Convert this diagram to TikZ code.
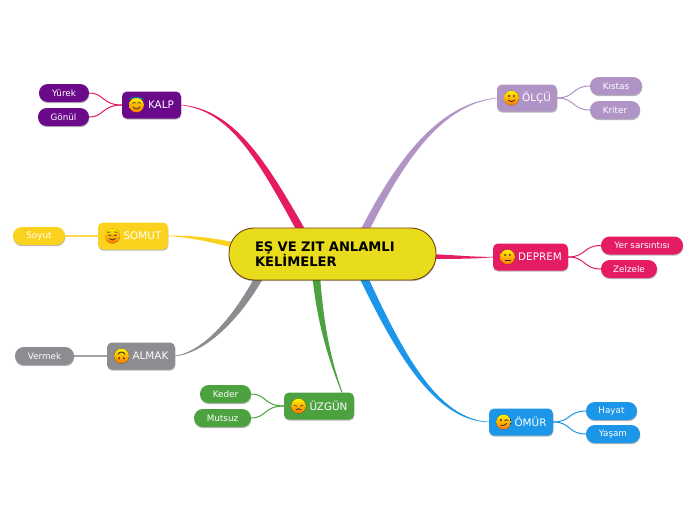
\documentclass[tikz,border=0pt]{standalone}
\usepackage{fontspec}
\setmainfont{DejaVu Sans}
\usetikzlibrary{shadows,backgrounds,calc}
\definecolor{cpurple}{HTML}{6A0A8A}
\definecolor{cpink}{HTML}{E51C63}
\definecolor{cyellow}{HTML}{FBD31F}
\definecolor{cgray}{HTML}{8C8C91}
\definecolor{cgreen}{HTML}{4BA23F}
\definecolor{clilac}{HTML}{B094C6}
\definecolor{cblue}{HTML}{1B96E8}
\definecolor{croot}{HTML}{E8DC1C}
\definecolor{cedge}{HTML}{744410}
\tikzset{
  softshadow/.style={general shadow={shadow xshift=0.3pt,shadow yshift=-1.2pt,fill=black,opacity=.28}},
  topic/.style={rectangle,rounded corners=5pt,fill=#1,text=white,softshadow,inner sep=0pt,minimum height=27pt,font=\fontsize{10.4}{12}\selectfont},
  leaf/.style={rectangle,rounded corners=8.8pt,fill=#1,text=white,softshadow,inner sep=0pt,minimum height=18pt,font=\fontsize{8.8}{11}\selectfont},
  rootbox/.style={rectangle,rounded corners=25pt,fill=croot,draw=cedge,line width=.9pt,softshadow,inner ysep=0pt,inner xsep=26pt,minimum height=52pt,text width=155pt,align=left,font=\fontsize{13.1}{15.5}\selectfont\bfseries,text=black},
  twig/.style={draw=#1,line width=1pt,line cap=round}
}
\newcommand{\taperline}[6]{% colour, thin end, c1, c2, root point, half width
  \fill[#1] ($(#2)+.12*(#6)$) .. controls ($(#3)+.3*(#6)$) and ($(#4)+.85*(#6)$) .. ($(#5)+(#6)$) -- ($(#5)-(#6)$) .. controls ($(#4)-.85*(#6)$) and ($(#3)-.3*(#6)$) .. ($(#2)-.12*(#6)$) -- cycle;
}
\newcommand{\facebase}{\fill[top color=yellow!90!orange,bottom color=orange!92!red,draw=none] (0,0) circle (7.4);}
\newcommand{\dotseyes}{\fill[black!80] (-2.4,-2) ellipse (.9 and 1.3); \fill[black!80] (2.4,-2) ellipse (.9 and 1.3);}
\newcommand{\facekalp}{\facebase
  \draw[black!75,line width=.7pt] (-4.2,-1.6) .. controls (-3.2,-3) and (-1.8,-3) .. (-1,-1.6);
  \draw[black!75,line width=.7pt] (4.2,-1.6) .. controls (3.2,-3) and (1.8,-3) .. (1,-1.6);
  \draw[black!75,line width=.8pt] (-3.6,1.6) .. controls (-2,4.6) and (2,4.6) .. (3.6,1.6);
  \draw[cblue!70!black,line width=1.3pt] (-7,-5.8) .. controls (-4,-8.2) and (4,-8.2) .. (7,-5.8);}
\newcommand{\facesomut}{\facebase
  \draw[black!75,line width=.6pt] (-5,-3.6) -- (-1.4,-4.2); \draw[black!75,line width=.6pt] (5,-3.6) -- (1.4,-4.2);
  \draw[black!75,line width=.7pt] (-4.4,-1.2) .. controls (-3.4,-.2) and (-2,-.2) .. (-1,-1.2);
  \draw[black!75,line width=.7pt] (4.4,-1.2) .. controls (3.4,-.2) and (2,-.2) .. (1,-1.2);
  \draw[black!75,line width=.9pt] (-3,2.6) .. controls (-1,4.4) and (1,4.4) .. (3,2.6);}
\newcommand{\facealmak}{\facebase
  \draw[black!80,line width=.9pt] (-3.6,-1.6) .. controls (-2,-4.8) and (2,-4.8) .. (3.6,-1.6);
  \fill[black!80] (-2.4,2.2) ellipse (.9 and 1.3); \fill[black!80] (2.4,2.2) ellipse (.9 and 1.3);}
\newcommand{\faceuzgun}{\facebase
  \draw[black!75,line width=.7pt] (-4.8,-1) -- (-1.4,.2); \draw[black!75,line width=.7pt] (4.8,-1) -- (1.4,.2);
  \draw[black!75,line width=.9pt] (-2.8,4) .. controls (-1.2,2.2) and (1.2,2.2) .. (2.8,4);}
\newcommand{\faceolcu}{\facebase\dotseyes
  \draw[black!80,line width=.8pt] (-3.6,2) .. controls (-1.8,4.2) and (1.8,4.2) .. (3.6,2);}
\newcommand{\facedeprem}{\facebase\dotseyes
  \draw[black!80,line width=.9pt] (-3,3.2) -- (3,3.2);}
\newcommand{\faceomur}{\facebase
  \fill[black!80] (-2.6,-2) ellipse (1 and 1.4);
  \draw[black!80,line width=.8pt] (1,-1.2) .. controls (2.4,-2.6) and (3.6,-2.4) .. (4.8,-1.6);
  \draw[black!80,line width=.8pt] (-2.6,3.4) .. controls (-.5,4) and (1.6,3.2) .. (3.4,1.4);}
\newcommand{\putface}[2]{\begin{scope}[shift={([xshift=14.7pt]#1.west)}]#2\end{scope}}
\newcommand{\gap}{\hspace*{19pt}}
\begin{document}
\begin{tikzpicture}[x=1pt,y=-1pt]
\useasboundingbox (0,0) rectangle (696,520);
% root
\node[rootbox] (root) at (332.5,254) {EŞ VE ZIT ANLAMLI\\KELİMELER};
% topics
\node[topic=cpurple,minimum width=59pt] (kalp) at (151.5,105) {\gap KALP};
\node[topic=cyellow,minimum width=70pt] (somut) at (133,236) {\gap SOMUT};
\node[topic=cgray,minimum width=68pt] (almak) at (141,356) {\gap ALMAK};
\node[topic=cgreen,minimum width=70pt] (uzgun) at (319,406) {\gap ÜZGÜN};
\node[topic=clilac,minimum width=60pt] (olcu) at (527,98) {\gap ÖLÇÜ};
\node[topic=cpink,minimum width=75pt] (deprem) at (530.5,257) {\gap DEPREM};
\node[topic=cblue,minimum width=64pt] (omur) at (521,422) {\gap ÖMÜR};
% leaves
\node[leaf=cpurple,minimum width=50pt] (yurek) at (64,93) {Yürek};
\node[leaf=cpurple,minimum width=51pt] (gonul) at (63.5,117) {Gönül};
\node[leaf=cyellow,minimum width=52pt] (soyut) at (39,236) {Soyut};
\node[leaf=cgray,minimum width=59pt] (vermek) at (44.5,356) {Vermek};
\node[leaf=cgreen,minimum width=51pt] (keder) at (225.5,394) {Keder};
\node[leaf=cgreen,minimum width=57pt] (mutsuz) at (222.5,418) {Mutsuz};
\node[leaf=clilac,minimum width=52pt] (kistas) at (616,86) {Kıstas};
\node[leaf=clilac,minimum width=50pt] (kriter) at (615,110) {Kriter};
\node[leaf=cpink,minimum width=82pt] (yer) at (642,245.5) {Yer sarsıntısı};
\node[leaf=cpink,minimum width=56pt] (zelzele) at (629,269) {Zelzele};
\node[leaf=cblue,minimum width=51pt] (hayat) at (611.5,411) {Hayat};
\node[leaf=cblue,minimum width=54pt] (yasam) at (613,434) {Yaşam};
% faces
\putface{kalp}{\facekalp}
\putface{somut}{\facesomut}
\putface{almak}{\facealmak}
\putface{uzgun}{\faceuzgun}
\putface{olcu}{\faceolcu}
\putface{deprem}{\facedeprem}
\putface{omur}{\faceomur}
% connectors
\begin{scope}[on background layer]
\fill[white] (0,0) rectangle (696,520);
\coordinate (rk) at (303,234);
\coordinate (ro) at (363,234);
\coordinate (rd) at (430,256.5);
\coordinate (rm) at (362,274);
\coordinate (ru) at (316,274);
\coordinate (ra) at (261,274);
\coordinate (rs) at (238,246);
\coordinate (uz) at (342,392.5);
\taperline{cpink}{kalp.east}{232,110}{262,160}{rk}{3.6,-1.8}
\taperline{clilac}{olcu.west}{440,104}{400,160}{ro}{3.6,1.8}
\taperline{cpink}{deprem.west}{475,258}{455,257}{rd}{0,2.4}
\taperline{cblue}{omur.west}{435,420}{398,350}{rm}{3.6,-1.8}
\taperline{cgreen}{uz}{328,355}{320,320}{ru}{3.8,-.6}
\taperline{cgray}{almak.east}{205,352}{237,318}{ra}{3.6,1.8}
\taperline{cyellow}{somut.east}{190,236}{212,240}{rs}{.6,-2.8}
\draw[twig=cpink] (yurek.east) .. controls (104,93) and (102,105) .. (kalp.west);
\draw[twig=cpink] (gonul.east) .. controls (104,117) and (102,105) .. (kalp.west);
\draw[twig=cyellow!80,line width=1.3pt] (soyut.east) -- (somut.west);
\draw[twig=cgray!80,line width=1.3pt] (vermek.east) -- (almak.west);
\draw[twig=cgreen] (keder.east) .. controls (266,394) and (264,406) .. (uzgun.west);
\draw[twig=cgreen] (mutsuz.east) .. controls (266,418) and (264,406) .. (uzgun.west);
\draw[twig=clilac] (olcu.east) .. controls (575,98) and (572,86) .. (kistas.west);
\draw[twig=clilac] (olcu.east) .. controls (575,98) and (572,110) .. (kriter.west);
\draw[twig=cpink] (deprem.east) .. controls (586,257) and (583,245.5) .. (yer.west);
\draw[twig=cpink] (deprem.east) .. controls (586,257) and (583,269) .. (zelzele.west);
\draw[twig=cblue] (omur.east) .. controls (571,422) and (568,411) .. (hayat.west);
\draw[twig=cblue] (omur.east) .. controls (571,422) and (568,434) .. (yasam.west);
\end{scope}
\end{tikzpicture}
\end{document}
